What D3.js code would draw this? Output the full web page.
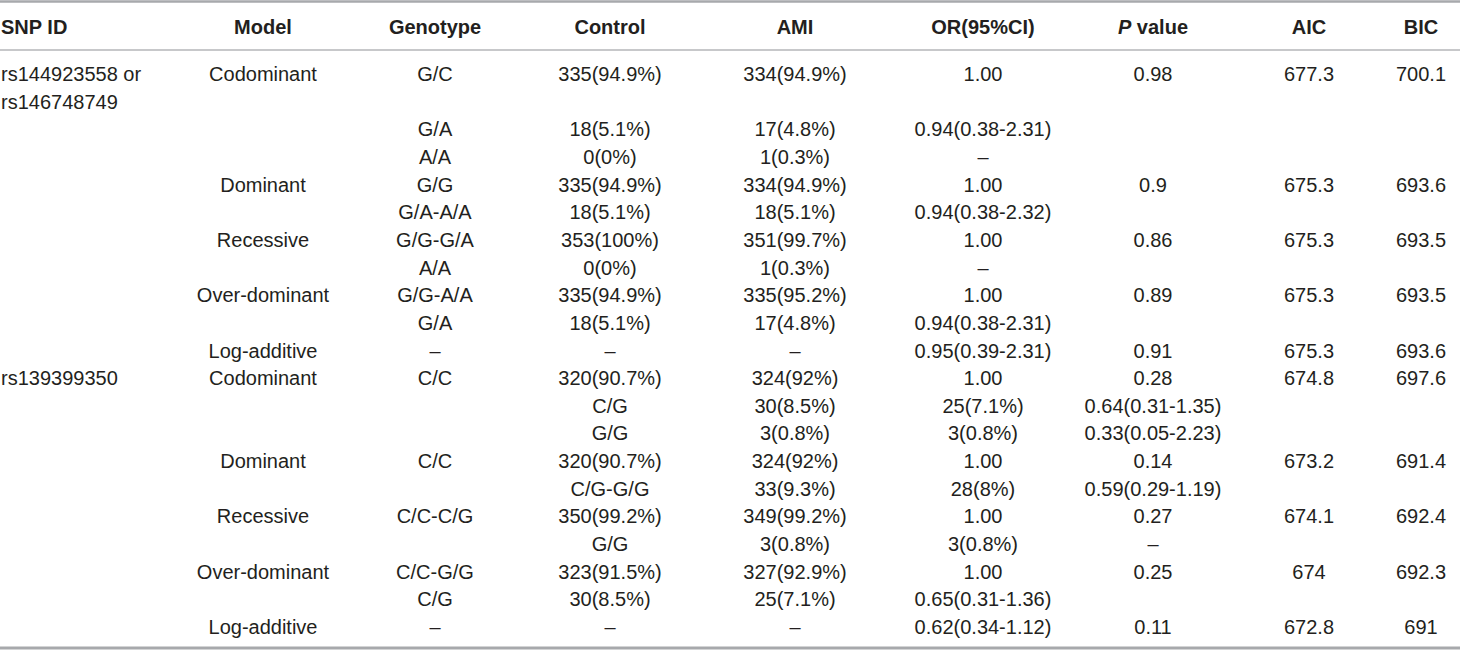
<!DOCTYPE html>
<html>
<head>
<meta charset="utf-8">
<script src="https://cdn.jsdelivr.net/npm/d3@7"></script>
<style>
  html, body { margin: 0; padding: 0; background: #fff; }
  svg { display: block; font-family: "Liberation Sans", Arial, Helvetica, sans-serif; }
  .cell { font-size: 20px; fill: #231f20; }
  .head { font-size: 20px; font-weight: bold; fill: #231f20; }
</style>
</head>
<body>
<script>
// table content, one array per column (20 body rows)
const columns = ['snp', 'model', 'genotype', 'control', 'ami', 'or', 'p', 'aic', 'bic']
const headers = ['SNP ID', 'Model', 'Genotype', 'Control', 'AMI', 'OR(95%CI)', 'P value', 'AIC', 'BIC']

const snpIds = ['rs144923558 or|rs146748749', '', '', '', '', '', '', '', '', '',
  'rs139399350', '', '', '', '', '', '', '', '', '']
const models = ['Codominant', '', '', 'Dominant', '', 'Recessive', '', 'Over-dominant', '', 'Log-additive',
  'Codominant', '', '', 'Dominant', '', 'Recessive', '', 'Over-dominant', '', 'Log-additive']
const genotypes = ['G/C', 'G/A', 'A/A', 'G/G', 'G/A-A/A', 'G/G-G/A', 'A/A', 'G/G-A/A', 'G/A', '–',
  'C/C', '', '', 'C/C', '', 'C/C-C/G', '', 'C/C-G/G', 'C/G', '–']
const control = ['335(94.9%)', '18(5.1%)', '0(0%)', '335(94.9%)', '18(5.1%)', '353(100%)', '0(0%)', '335(94.9%)', '18(5.1%)', '–',
  '320(90.7%)', 'C/G', 'G/G', '320(90.7%)', 'C/G-G/G', '350(99.2%)', 'G/G', '323(91.5%)', '30(8.5%)', '–']
const ami = ['334(94.9%)', '17(4.8%)', '1(0.3%)', '334(94.9%)', '18(5.1%)', '351(99.7%)', '1(0.3%)', '335(95.2%)', '17(4.8%)', '–',
  '324(92%)', '30(8.5%)', '3(0.8%)', '324(92%)', '33(9.3%)', '349(99.2%)', '3(0.8%)', '327(92.9%)', '25(7.1%)', '–']
const orCI = ['1.00', '0.94(0.38-2.31)', '–', '1.00', '0.94(0.38-2.32)', '1.00', '–', '1.00', '0.94(0.38-2.31)', '0.95(0.39-2.31)',
  '1.00', '25(7.1%)', '3(0.8%)', '1.00', '28(8%)', '1.00', '3(0.8%)', '1.00', '0.65(0.31-1.36)', '0.62(0.34-1.12)']
const pValues = ['0.98', '', '', '0.9', '', '0.86', '', '0.89', '', '0.91',
  '0.28', '0.64(0.31-1.35)', '0.33(0.05-2.23)', '0.14', '0.59(0.29-1.19)', '0.27', '–', '0.25', '', '0.11']
const aic = ['677.3', '', '', '675.3', '', '675.3', '', '675.3', '', '675.3',
  '674.8', '', '', '673.2', '', '674.1', '', '674', '', '672.8']
const bic = ['700.1', '', '', '693.6', '', '693.5', '', '693.5', '', '693.6',
  '697.6', '', '', '691.4', '', '692.4', '', '692.3', '', '691']

const width = 1460
const height = 650

const body = snpIds.map((s, i) => ({
  snp: s, model: models[i], genotype: genotypes[i], control: control[i], ami: ami[i],
  or: orCI[i], p: pValues[i], aic: aic[i], bic: bic[i]
}))

const svg = d3.select('body').append('svg').attr('width', width).attr('height', height)

// column centres (first column is left aligned)
var scaleX = d3.scaleOrdinal().domain(columns).range([1, 263, 435, 610, 795, 983, 1153, 1309, 1421])
// text line slots: first row wraps onto two lines
var scaleY = d3.scaleLinear().domain([0, 20]).range([74, 627])
const lineOf = i => i === 0 ? 0 : i + 1

// rules
const rules = [
  {y: 1.5, w: 2.5, c: '#a7a9ac'},
  {y: 50, w: 2, c: '#c7c8ca'},
  {y: 648, w: 3, c: '#a7a9ac'}
]
svg.append('g').selectAll('line')
  .data(rules)
  .enter()
  .append('line')
  .attr('x1', 0).attr('x2', width)
  .attr('y1', d => d.y).attr('y2', d => d.y)
  .attr('stroke', d => d.c)
  .attr('stroke-width', d => d.w)

// header
var head = svg.append('g').selectAll('text')
  .data(headers)
  .enter()
  .append('text')
  .attr('class', 'head')
  .attr('x', (d, i) => scaleX(columns[i]))
  .attr('y', 27)
  .attr('dy', '0.35em')
  .attr('text-anchor', (d, i) => i === 0 ? 'start' : 'middle')
head.each(function (d) {
  var t = d3.select(this)
  if (d === 'P value') {
    t.append('tspan').attr('font-style', 'italic').text('P')
    t.append('tspan').text(' value')
  } else {
    t.text(d)
  }
})

// body cells
var cells = []
body.forEach((row, i) => {
  columns.forEach(c => {
    if (row[c] === '') return
    row[c].split('|').forEach((txt, k) => {
      cells.push({col: c, text: txt, line: lineOf(i) + k})
    })
  })
})

svg.append('g').selectAll('text')
  .data(cells)
  .enter()
  .append('text')
  .attr('class', 'cell')
  .attr('x', d => scaleX(d.col))
  .attr('y', d => scaleY(d.line))
  .attr('dy', '0.35em')
  .attr('text-anchor', d => d.col === 'snp' ? 'start' : 'middle')
  .text(d => d.text)
</script>
</body>
</html>
